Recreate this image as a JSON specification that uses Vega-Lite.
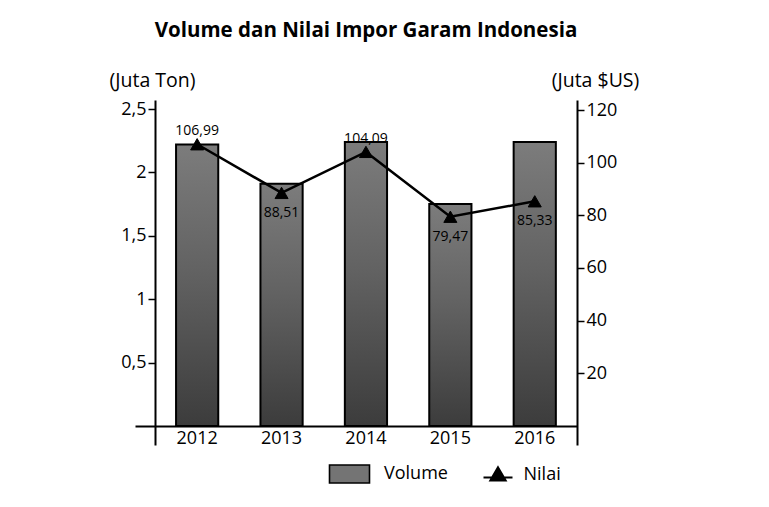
{
  "$schema": "https://vega.github.io/schema/vega-lite/v6.json",
  "width": 442,
  "height": 345,
  "autosize": {"type": "none"},
  "padding": {"left": 135, "top": 100, "right": 192, "bottom": 62},
  "background": "white",
  "config": {
    "font": "Open Sans",
    "view": {"stroke": null},
    "locale": {"number": {"decimal": ",", "thousands": ".", "grouping": [3], "currency": ["", ""]}},
    "axis": {
      "domainColor": "black",
      "domainWidth": 2,
      "tickColor": "black",
      "tickWidth": 1.5,
      "tickSize": 7,
      "labelColor": "black",
      "labelFont": "Open Sans",
      "labelFontSize": 18,
      "labelPadding": 2,
      "titleColor": "black",
      "titleFont": "Open Sans",
      "titleFontSize": 19.5,
      "titleFontWeight": "normal",
      "grid": false
    },
    "legend": {
      "title": null,
      "orient": "none",
      "direction": "horizontal",
      "symbolSize": 1600,
      "labelOffset": 13.5,
      "labelFont": "Open Sans",
      "labelFontSize": 18,
      "labelColor": "black",
      "symbolOpacity": 1
    }
  },
  "title": {
    "text": "Volume dan Nilai Impor Garam Indonesia",
    "font": "Open Sans",
    "fontSize": 20.5,
    "fontWeight": "bold",
    "color": "black",
    "anchor": "middle",
    "dx": 10,
    "offset": 29
  },
  "data": {
    "values": [
      {"tahun": "2012", "volume": 2.22, "nilai": 106.99},
      {"tahun": "2013", "volume": 1.91, "nilai": 88.51},
      {"tahun": "2014", "volume": 2.24, "nilai": 104.09},
      {"tahun": "2015", "volume": 1.75, "nilai": 79.47},
      {"tahun": "2016", "volume": 2.24, "nilai": 85.33}
    ]
  },
  "encoding": {
    "x": {
      "field": "tahun",
      "type": "ordinal",
      "scale": {"paddingInner": 0.5, "paddingOuter": 0.3685, "align": 0.66},
      "axis": {"title": null, "orient": "bottom", "offset": -19, "ticks": false, "labelAngle": 0, "labelPadding": 3}
    }
  },
  "layer": [
    {
      "mark": {
        "type": "bar",
        "stroke": "black",
        "strokeWidth": 2,
        "fill": {
          "gradient": "linear",
          "x1": 0, "y1": 0, "x2": 0, "y2": 1,
          "stops": [
            {"offset": 0, "color": "#7c7c7c"},
            {"offset": 0.45, "color": "#626262"},
            {"offset": 1, "color": "#3c3c3c"}
          ]
        }
      },
      "encoding": {
        "y": {
          "field": "volume",
          "type": "quantitative",
          "scale": {"domain": [-0.15, 2.571], "nice": false, "zero": false},
          "axis": {
            "orient": "left",
            "offset": -20,
            "values": [0.5, 1, 1.5, 2, 2.5],
            "format": "~g",
            "title": "(Juta Ton)",
            "titleAngle": 0,
            "titleAlign": "center",
            "titleBaseline": "middle",
            "titleX": -3,
            "titleY": -20
          }
        },
        "color": {
          "datum": "Volume",
          "type": "nominal",
          "scale": {"domain": ["Volume"], "range": ["#747474"]},
          "legend": {
            "legendX": 193.5,
            "legendY": 353,
            "symbolType": "M-1,-0.45H1V0.45H-1Z",
            "symbolStrokeColor": "black",
            "symbolStrokeWidth": 1.6
          }
        }
      }
    },
    {
      "encoding": {
        "y": {
          "field": "nilai",
          "type": "quantitative",
          "scale": {"domain": [-7.22, 123.8], "nice": false, "zero": false}
        }
      },
      "layer": [
        {
          "mark": {"type": "line", "strokeWidth": 2.5, "color": "black"},
          "encoding": {
            "y": {
              "field": "nilai",
              "type": "quantitative",
              "axis": {
                "orient": "right",
                "values": [20, 40, 60, 80, 100, 120],
                "format": "d",
                "title": "(Juta $US)",
                "titleAngle": 0,
                "titleAlign": "center",
                "titleBaseline": "middle",
                "titleX": 18,
                "titleY": -20
              }
            }
          }
        },
        {
          "mark": {"type": "point", "shape": "triangle-up", "size": 170, "filled": true, "fill": "black", "stroke": "black", "strokeWidth": 1},
          "encoding": {
            "opacity": {
              "datum": "Nilai",
              "type": "ordinal",
              "scale": {"domain": ["Nilai"], "range": [1]},
              "legend": {
                "legendX": 332,
                "legendY": 353,
                "symbolType": "M-0.25,0.15H1.2M0.475,-0.35L0.85,0.3H0.1Z",
                "symbolFillColor": "black",
                "symbolStrokeWidth": 2.2
              }
            }
          }
        },
        {
          "transform": [{"filter": "datum.tahun === '2012' || datum.tahun === '2014'"}],
          "mark": {"type": "text", "font": "Open Sans", "fontSize": 14, "color": "black", "baseline": "middle", "dy": -13},
          "encoding": {"text": {"field": "nilai", "type": "quantitative", "format": ".2f"}}
        },
        {
          "transform": [{"filter": "datum.tahun !== '2012' && datum.tahun !== '2014'"}],
          "mark": {"type": "text", "font": "Open Sans", "fontSize": 14, "color": "black", "baseline": "middle", "dy": 20},
          "encoding": {"text": {"field": "nilai", "type": "quantitative", "format": ".2f"}}
        }
      ]
    }
  ],
  "resolve": {"scale": {"y": "independent"}, "axis": {"y": "independent"}}
}
